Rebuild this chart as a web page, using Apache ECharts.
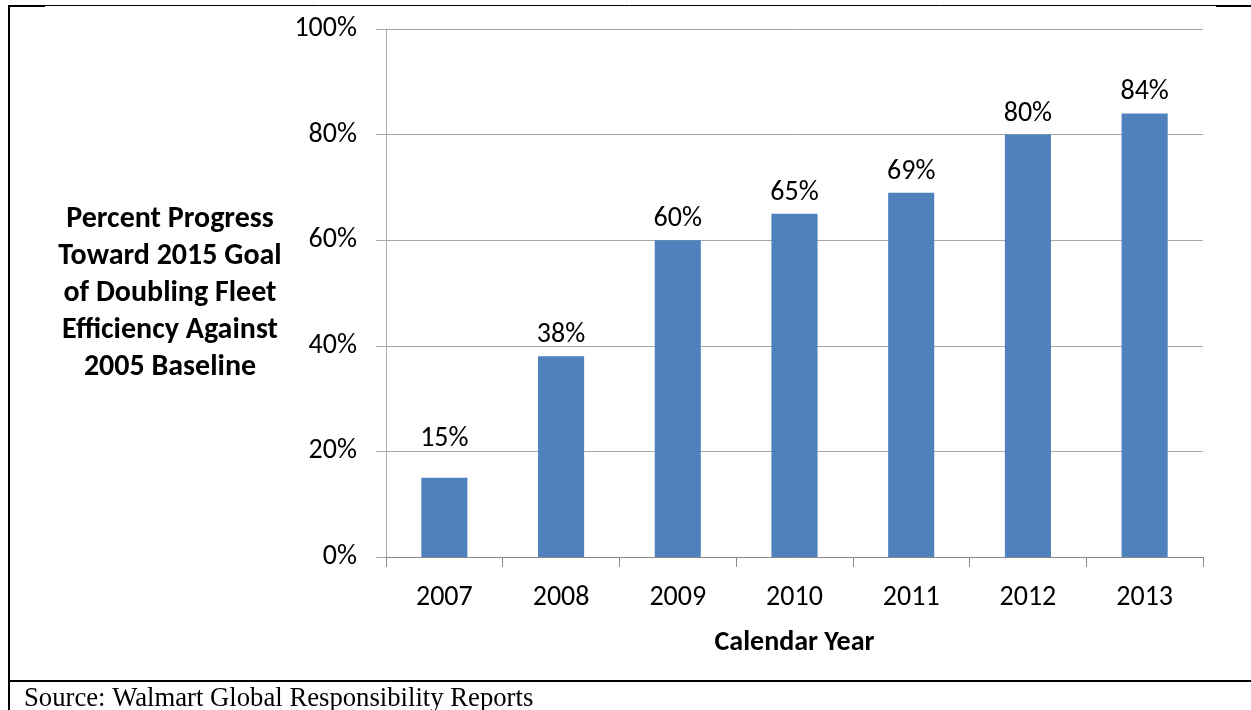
<!DOCTYPE html>
<html>
<head>
<meta charset="utf-8">
<script src="https://cdn.jsdelivr.net/npm/echarts@6/dist/echarts.min.js"></script>
<style>
  html, body { margin: 0; padding: 0; background: #fff; }
  #chart { width: 1251px; height: 710px; }
</style>
</head>
<body>
<div id="chart"></div>
<script>
// data
const years = ['2007', '2008', '2009', '2010', '2011', '2012', '2013'];
const progress = [15, 38, 60, 65, 69, 80, 84];
const yTicks = [0, 20, 40, 60, 80, 100];
const yName = 'Percent Progress\nToward 2015 Goal\nof Doubling Fleet\nEfficiency Against\n2005 Baseline';
const xName = 'Calendar Year';
const sourceText = 'Source: Walmart Global Responsibility Reports';

const FONT = 'Carlito, Lato, sans-serif';
const barColor = '#4f81bd';

// the first label sits a bit higher above its bar than the others
let barData = progress.map((v, i) => ({
    value: v,
    label: { distance: i === 0 ? 25 : 7 }
}));

let chart = echarts.init(document.getElementById('chart'));

let option = {
    animation: false,
    backgroundColor: '#fff',
    textStyle: { fontFamily: FONT },
    grid: { left: 386, right: 48, top: 29, bottom: 153 },
    xAxis: {
        type: 'category',
        data: years,
        name: xName,
        nameLocation: 'middle',
        nameGap: 72,
        nameTextStyle: { fontFamily: FONT, fontSize: 28, fontWeight: 'bold', color: '#000' },
        axisLine: { lineStyle: { color: '#888', width: 1 } },
        axisTick: { show: true, length: 10, lineStyle: { color: '#888' } },
        axisLabel: { fontFamily: FONT, fontSize: 28, color: '#000', margin: 27 }
    },
    yAxis: {
        type: 'value',
        min: yTicks[0],
        max: yTicks[yTicks.length - 1],
        interval: 20,
        name: yName,
        nameLocation: 'middle',
        nameRotate: 0,
        nameGap: 216,
        nameTextStyle: {
            fontFamily: FONT, fontSize: 30, fontWeight: 'bold', color: '#000',
            align: 'center', verticalAlign: 'middle', lineHeight: 37,
            padding: [15, 0, 0, 0]
        },
        axisLine: { show: true, lineStyle: { color: '#aaa', width: 1 } },
        axisTick: { show: true, length: 10, inside: false, lineStyle: { color: '#aaa' } },
        splitLine: { lineStyle: { color: '#a6a6a6', width: 1 } },
        axisLabel: {
            fontFamily: FONT, fontSize: 28, color: '#000', margin: 29,
            formatter: v => v + '%'
        }
    },
    series: [{
        type: 'bar',
        data: barData,
        barWidth: '39.5%',
        itemStyle: { color: barColor },
        label: {
            show: true,
            position: 'top',
            fontFamily: FONT,
            fontSize: 28,
            color: '#000',
            formatter: p => p.value + '%'
        }
    }],
    graphic: [
        // frame lines around the figure
        { type: 'line', shape: { x1: 8, y1: 5.5, x2: 1251, y2: 5.5 }, style: { stroke: '#000', lineWidth: 1 } },
        { type: 'line', shape: { x1: 8, y1: 6, x2: 45, y2: 6 }, style: { stroke: '#000', lineWidth: 2 } },
        { type: 'line', shape: { x1: 1216, y1: 6, x2: 1251, y2: 6 }, style: { stroke: '#000', lineWidth: 2 } },
        { type: 'line', shape: { x1: 9, y1: 5, x2: 9, y2: 710 }, style: { stroke: '#000', lineWidth: 2 } },
        { type: 'line', shape: { x1: 8, y1: 681, x2: 1251, y2: 681 }, style: { stroke: '#000', lineWidth: 2 } },
        {
            type: 'text', left: 24, top: 685,
            style: { text: sourceText, font: '26.7px "Liberation Serif", "Times New Roman", serif', fill: '#000' }
        }
    ]
};
chart.setOption(option);
</script>
</body>
</html>
